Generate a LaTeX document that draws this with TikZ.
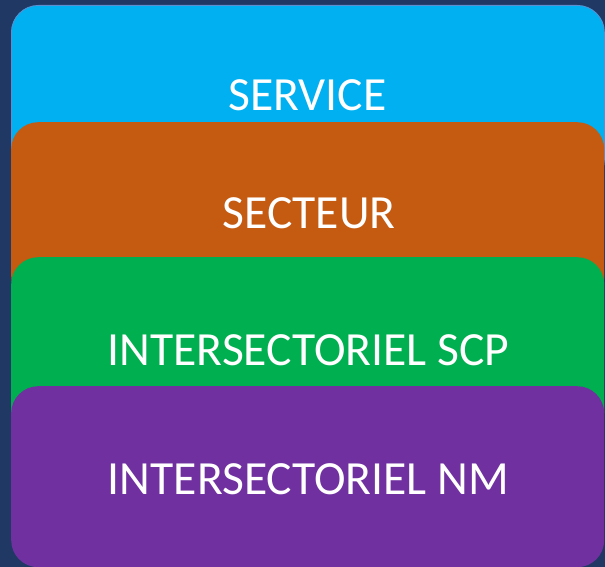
\documentclass[tikz,border=0pt]{standalone}
\usepackage{fontspec}
\setmainfont{Carlito}
\definecolor{bg}{HTML}{1F3864}
\definecolor{cyanbox}{HTML}{00B0F0}
\definecolor{orangebox}{HTML}{C55A11}
\definecolor{greenbox}{HTML}{00B050}
\definecolor{purplebox}{HTML}{7030A0}
\definecolor{edgeblue}{HTML}{5B8FD0}
\begin{document}
\begin{tikzpicture}[x=1pt,y=-1pt,
  layer/.style={rectangle, rounded corners=27pt, minimum width=593pt, minimum height=181pt, inner sep=0pt, anchor=north west},
  lbl/.style={text=white, font=\fontsize{47.6}{52}\selectfont, anchor=base, inner sep=0pt}]
\fill[bg] (0,0) rectangle (605,567);
\useasboundingbox (0,0) rectangle (605,567);
\node[layer, fill=cyanbox, draw=edgeblue, line width=0.8pt] (service) at (11,5) {};
\node[layer, fill=orangebox] (secteur) at (11,122) {};
\node[layer, fill=greenbox] (scp) at (11,257) {};
\node[layer, fill=purplebox] (nm) at (11,386) {};
\node[lbl] (tservice) at (307.5,111) {SERVICE};
\node[lbl] (tsecteur) at (309,228) {SECTEUR};
\node[lbl] (tscp) at (308.5,365) {INTERSECTORIEL SCP};
\node[lbl] (tnm) at (308.5,494) {INTERSECTORIEL NM};
\end{tikzpicture}
\end{document}
